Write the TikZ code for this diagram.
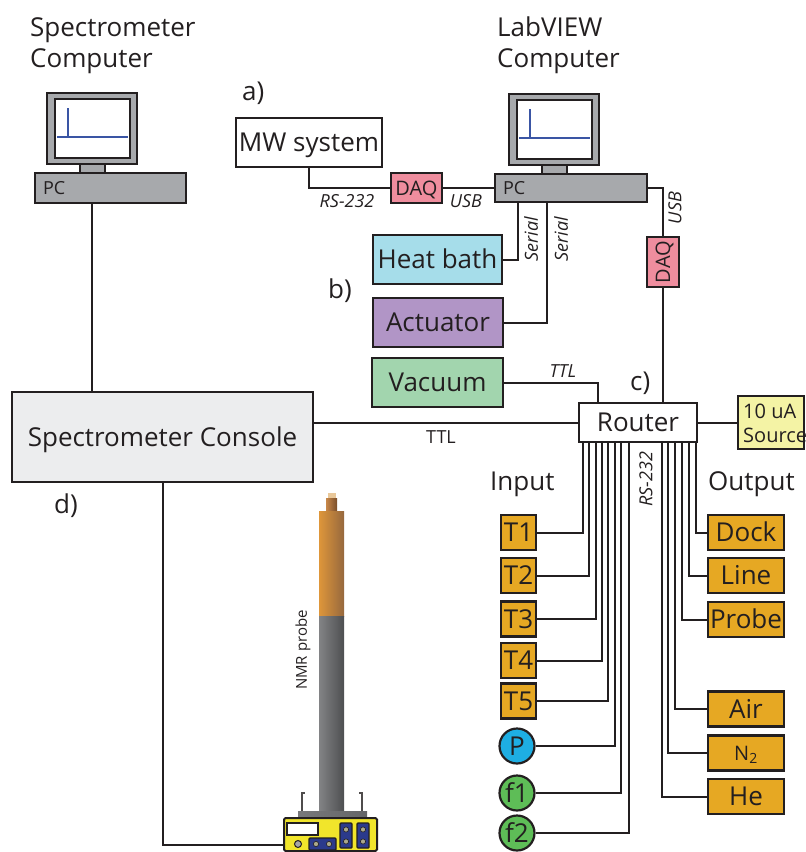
\documentclass[tikz,border=0pt]{standalone}
\usepackage{fontspec}
\setmainfont{Open Sans}
\usetikzlibrary{calc}

\definecolor{ink}{HTML}{231F20}
\definecolor{pcgray}{HTML}{A7A9AC}
\definecolor{daqpink}{HTML}{EF8D9E}
\definecolor{heatblue}{HTML}{A6DDEA}
\definecolor{actpurple}{HTML}{B195C6}
\definecolor{vacgreen}{HTML}{A2D5AE}
\definecolor{srcyellow}{HTML}{F4F3A5}
\definecolor{ioorange}{HTML}{E6A823}
\definecolor{pblue}{HTML}{1EAEE3}
\definecolor{fgreen}{HTML}{5EBD57}
\definecolor{consolegray}{HTML}{ECEDEE}
\definecolor{screenblue}{HTML}{3A55A4}
\definecolor{probeyellow}{HTML}{F1E52B}
\definecolor{probeblue}{HTML}{2B3A8C}

\newcommand\fsBig{\fontsize{26}{31}\selectfont}
\newcommand\fsMid{\fontsize{20}{24}\selectfont}
\newcommand\fsSmall{\fontsize{18}{20}\selectfont}
\newcommand\fsTiny{\fontsize{15}{18}\selectfont}

\tikzset{
  box/.style={draw=ink, line width=2.2pt, inner sep=0pt, text=ink},
  bigtext/.style={font=\fsBig, text height=18.6pt, text depth=0pt},
  midtext/.style={font=\fsMid, text height=14.3pt, text depth=0pt},
  wire/.style={draw=ink, line width=2pt},
  title/.style={font=\fsBig, text=ink, inner sep=0pt, anchor=base west},
  tag/.style={font=\fsSmall\itshape, text=ink, inner sep=0pt},
  iobox/.style={box, bigtext, fill=ioorange, minimum height=35pt},
  iocirc/.style={box, bigtext, circle, minimum size=35pt},
  monitor/.pic={
    \draw[ink, line width=2.4pt, fill=pcgray] (0,0) rectangle (90,71);
    \draw[ink, line width=2pt, fill=white] (8,6) rectangle (83,65);
    \draw[screenblue, line width=1.3pt] (10,44) -- (81,44) (21,44) -- (21,15);
    \draw[ink, line width=2pt, fill=pcgray] (33,71) rectangle (58,80);
  }
}

\begin{document}
\begin{tikzpicture}[x=1pt, y=-1pt]
\useasboundingbox (0,0) rectangle (806,852);

% ---------- titles and section letters ----------
\node[title] (tSpec1) at (30,36) {Spectrometer};
\node[title] (tSpec2) at (30,67) {Computer};
\node[title] (tLab1) at (497,36) {LabVIEW};
\node[title] (tLab2) at (497,67) {Computer};
\node[title] (la) at (242,100) {a)};
\node[title] (lb) at (328,298) {b)};
\node[title] (lc) at (630,390) {c)};
\node[title] (ld) at (54,513) {d)};
\node[title] (lin) at (490,490) {Input};
\node[title] (lout) at (708,490) {Output};

% ---------- computers ----------
\pic at (47,93) {monitor};
\pic at (509,94) {monitor};
\node[box, fill=pcgray, minimum width=151pt, minimum height=30pt] (pcA) at (110.5,188) {};
\node[font=\fontsize{18}{20}\selectfont, text height=12.9pt, text depth=0pt, text=ink, anchor=west, inner sep=0pt] (pcAlbl) at ($(pcA.west)+(9,0)$) {PC};
\node[box, fill=pcgray, minimum width=152pt, minimum height=28pt] (pcB) at (571,188) {};
\node[font=\fontsize{18}{20}\selectfont, text height=12.9pt, text depth=0pt, text=ink, anchor=west, inner sep=0pt] (pcBlbl) at ($(pcB.west)+(9,0)$) {PC};

% ---------- devices ----------
\node[box, bigtext, fill=white, minimum width=146pt, minimum height=49pt] (mw) at (309,142.5) {MW system};
\node[box, midtext, fill=daqpink, minimum width=51pt, minimum height=30pt] (daqA) at (416.5,188) {DAQ};
\node[box, fill=daqpink, minimum width=32pt, minimum height=50pt] (daqB) at (663,262) {};
\node[midtext, text=ink, rotate=90, inner sep=0pt] (daqBlbl) at (daqB.center) {DAQ};
\node[box, bigtext, fill=heatblue, minimum width=129pt, minimum height=49pt] (heat) at (437.5,259.5) {Heat bath};
\node[box, bigtext, fill=actpurple, minimum width=130pt, minimum height=49pt] (act) at (438,322.5) {Actuator};
\node[box, bigtext, fill=vacgreen, minimum width=131pt, minimum height=49pt] (vac) at (437.5,382.5) {Vacuum};
\node[box, bigtext, fill=consolegray, minimum width=301pt, minimum height=90pt] (console) at (162.5,437) {Spectrometer Console};
\node[box, bigtext, fill=white, minimum width=118pt, minimum height=39pt] (router) at (638,422.5) {Router};
\node[box, fill=srcyellow, minimum width=66pt, minimum height=53pt] (src) at (771,422.5) {};
\node[font=\fsMid, text=ink, inner sep=0pt, anchor=base west] (srcA) at (743,418) {10 uA};
\node[font=\fsMid, text=ink, inner sep=0pt, anchor=base west] (srcB) at (743,442) {Source};

% ---------- inputs ----------
\node[iobox, minimum width=35pt] (T1) at (518.5,532.5) {T1};
\node[iobox, minimum width=35pt] (T2) at (518.5,575.5) {T2};
\node[iobox, minimum width=35pt] (T3) at (518.5,619) {T3};
\node[iobox, minimum width=35pt] (T4) at (518.5,660.5) {T4};
\node[iobox, minimum width=35pt] (T5) at (518.5,701) {T5};
\node[iocirc, fill=pblue] (P) at (517,746) {P};
\node[iocirc, fill=fgreen] (f1) at (517,793) {f1};
\node[iocirc, fill=fgreen] (f2) at (517,833) {f2};

% ---------- outputs ----------
\node[iobox, minimum width=76pt] (oDock) at (746,532.5) {Dock};
\node[iobox, minimum width=76pt] (oLine) at (746,575.5) {Line};
\node[iobox, minimum width=76pt] (oProbe) at (746,619.5) {Probe};
\node[iobox, minimum width=76pt] (oAir) at (746,709) {Air};
\node[iobox, midtext, minimum width=76pt] (oN) at (746,753) {N$_{\mathrm{2}}$};
\node[iobox, minimum width=76pt] (oHe) at (746,796.5) {He};

% ---------- NMR probe ----------
\fill[fill={rgb,255:red,233;green,200;blue,154}] (328,493) rectangle (336,499);
\shade[left color={rgb,255:red,200;green,136;blue,74}, right color={rgb,255:red,122;green,78;blue,42}] (326,498) rectangle (337,511);
\shade[left color={rgb,255:red,222;green,150;blue,58}, middle color={rgb,255:red,246;green,170;blue,60}, right color={rgb,255:red,150;green,104;blue,62}] (319,511) rectangle (344,616);
\shade[left color={rgb,255:red,130;green,131;blue,133}, middle color={rgb,255:red,186;green,187;blue,189}, right color={rgb,255:red,78;green,79;blue,81}] (319,616) rectangle (344,813);
\draw[ink!80, line width=1.3pt] (302,812) -- (302,793) -- (305,793);
\draw[ink!80, line width=1.3pt] (362,812) -- (362,793) -- (359,793);
\shade[left color={rgb,255:red,120;green,121;blue,123}, middle color={rgb,255:red,200;green,201;blue,203}, right color={rgb,255:red,100;green,101;blue,103}] (298,811) rectangle (367,818);
\node[text=ink, font=\fsTiny, rotate=90, inner sep=0pt] (probelbl) at (303,650) {NMR probe};
\draw[ink, line width=2pt, fill=probeyellow, rounded corners=1.5pt] (284,818) rectangle (377,851);
\draw[ink, line width=1.5pt, fill=white] (287,823) rectangle (318,835);
\draw[ink, line width=1pt, fill=gray!70] (298,844) circle (3.5);
\draw[ink, line width=1.4pt, fill=probeblue, rounded corners=1pt] (309,838) rectangle (336,850);
\draw[ink, line width=1.4pt, fill=probeblue, rounded corners=1pt] (340,823) rectangle (352,848);
\draw[ink, line width=1.4pt, fill=probeblue, rounded corners=1pt] (357,823) rectangle (369,848);
\foreach \px/\py in {316/844, 329/844, 346/829.5, 346/841.5, 363/829.5, 363/841.5}
  \draw[ink, line width=0.6pt, fill={rgb,255:red,170;green,168;blue,140}] (\px,\py) circle (2.6);
\coordinate (port) at (284,845);

% ---------- connectors ----------
\draw[wire] (mw.south) |- (daqA.west);
\draw[wire] (daqA.east) -- (pcB.west);
\draw[wire] (pcB.east) -| (daqB.north);
\draw[wire] (daqB.south) -- (daqB.south |- router.north);
\coordinate (serA) at ($(pcB.south west)+(24,0)$);
\coordinate (serB) at ($(pcB.south west)+(53,0)$);
\draw[wire] (serA) |- (heat.east);
\draw[wire] (serB) |- (act.east);
\draw[wire] (vac.east) -| ($(router.north west)+(20,0)$);
\coordinate (pcAport) at ($(pcA.south west)+(58,0)$);
\draw[wire] (pcAport) -- (pcAport |- console.north);
\draw[wire] (router.west -| console.east) -- (router.west);
\draw[wire] (router.east) -- (src.west);
\draw[wire] (console.south) |- (port);
\foreach \dx/\t in {5/T1, 11.5/T2, 18/T3, 24/T4, 30.5/T5, 37/P, 43.5/f1, 51/f2}
  \draw[wire] ($(router.south west)+(\dx,0)$) |- (\t.east);
\foreach \dx/\t in {2/oDock, 9/oLine, 16/oProbe, 23/oAir, 30/oN, 36/oHe}
  \draw[wire] ($(router.south east)+(-\dx,0)$) |- (\t.west);

% ---------- connector labels ----------
\node[tag, anchor=base] (tRS) at (347,207) {RS-232};
\node[tag, anchor=base] (tUSBa) at (466,207) {USB};
\node[tag, rotate=90] (tUSBb) at (675,208) {USB};
\node[tag, rotate=90] (tSerA) at (531,239) {Serial};
\node[tag, rotate=90] (tSerB) at (561,239) {Serial};
\node[tag, anchor=base] (tTTLa) at (563,377) {TTL};
\node[font=\fsSmall, text=ink, inner sep=0pt, anchor=base] (tTTLb) at (441,443) {TTL};
\node[tag, rotate=90] (tRSb) at (646,479) {RS-232};
\end{tikzpicture}
\end{document}
